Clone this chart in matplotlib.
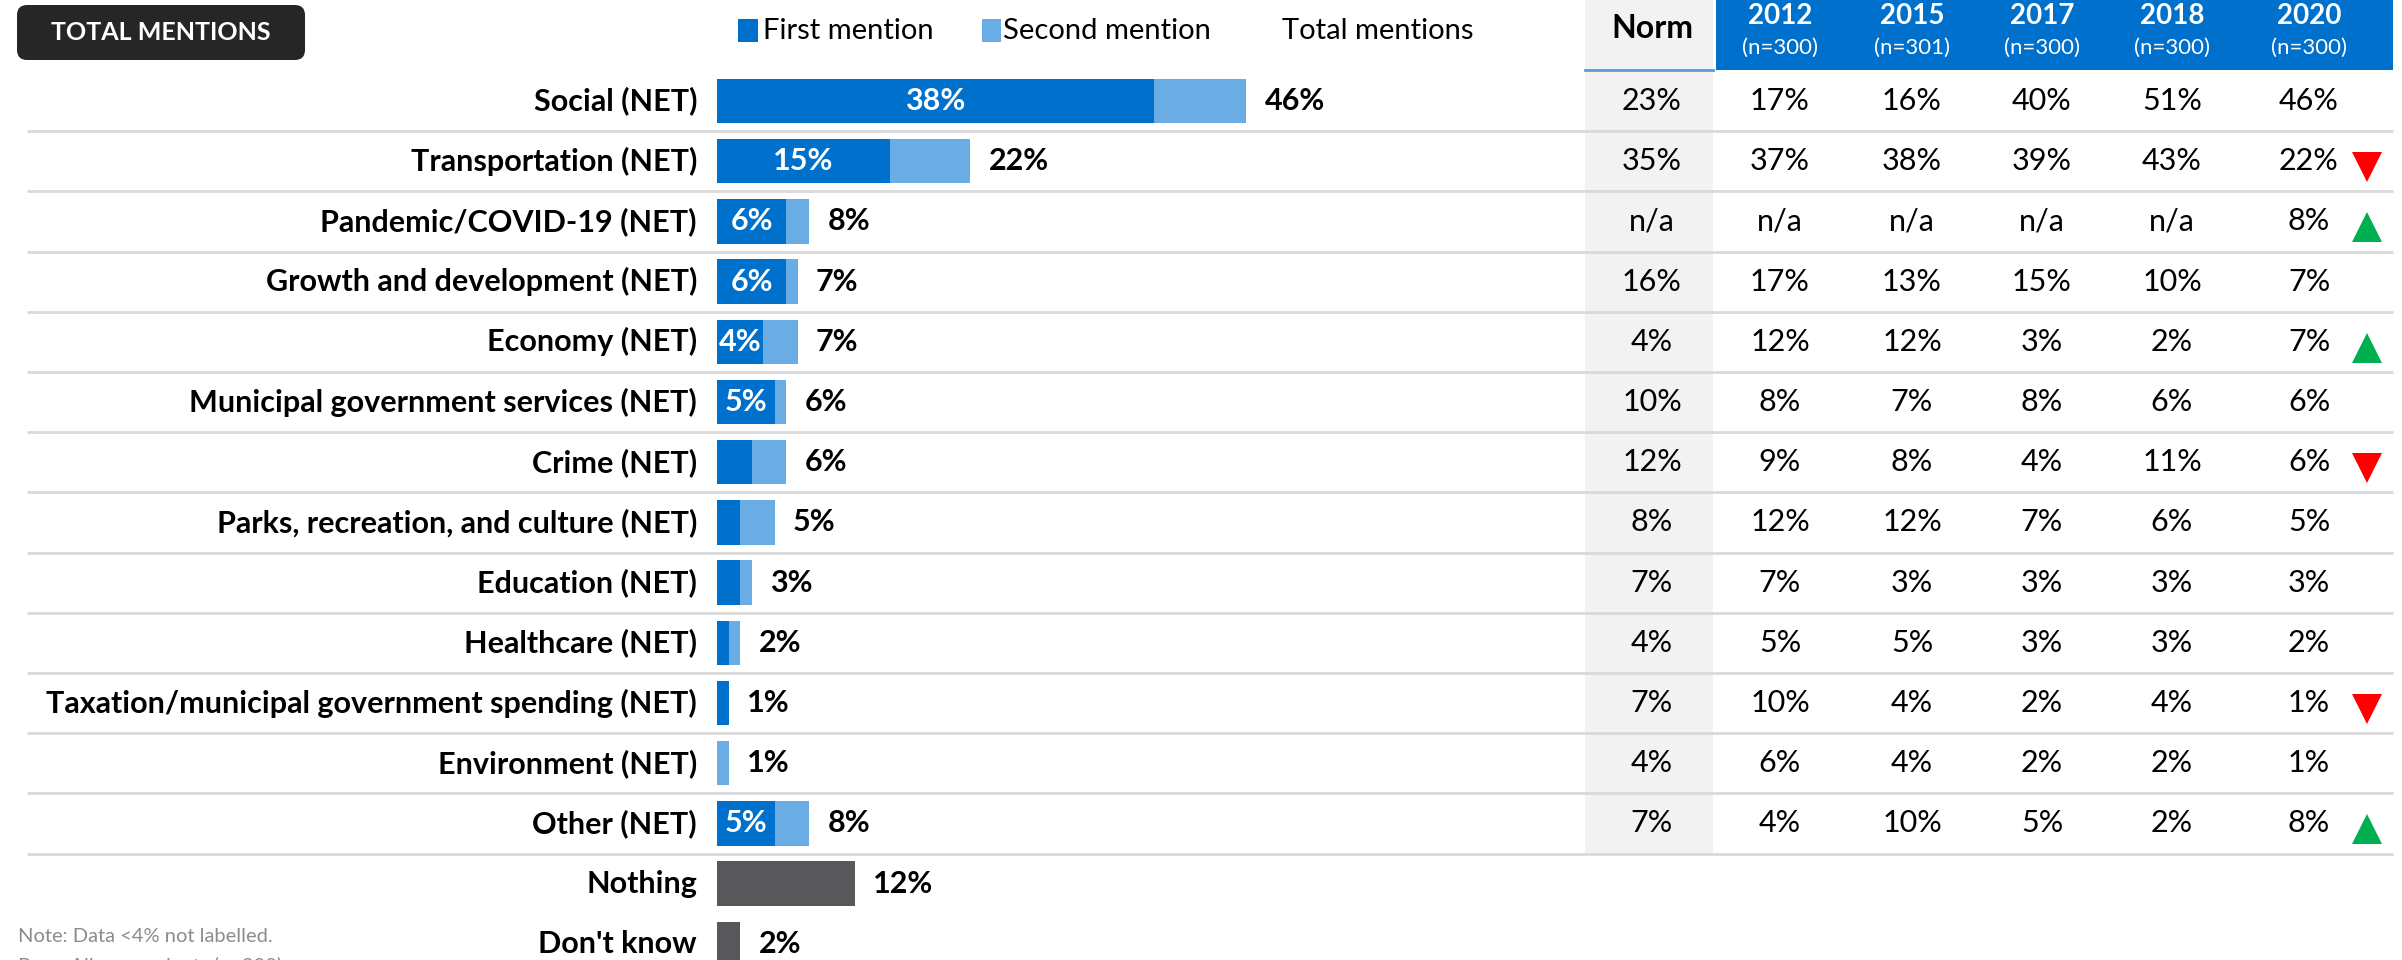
import matplotlib.pyplot as plt
from matplotlib.patches import FancyBboxPatch, Rectangle
from matplotlib.transforms import blended_transform_factory

plt.rcParams['font.family'] = ['Lato', 'DejaVu Sans']

categories = ["Social (NET)", "Transportation (NET)", "Pandemic/COVID-19 (NET)",
              "Growth and development (NET)", "Economy (NET)",
              "Municipal government services (NET)", "Crime (NET)",
              "Parks, recreation, and culture (NET)", "Education (NET)",
              "Healthcare (NET)", "Taxation/municipal government spending (NET)",
              "Environment (NET)", "Other (NET)"]
first_mention = [38, 15, 6, 6, 4, 5, 3, 2, 2, 1, 1, 0, 5]
second_mention = [8, 7, 2, 1, 3, 1, 3, 3, 1, 1, 0, 1, 3]
total_mentions = [46, 22, 8, 7, 7, 6, 6, 5, 3, 2, 1, 1, 8]

other_categories = ["Nothing", "Don't know"]
other_values = [12, 2]

norm = ["23%", "35%", "n/a", "16%", "4%", "10%", "12%", "8%", "7%", "4%", "7%", "4%", "7%"]
years = ["2012", "2015", "2017", "2018", "2020"]
sample_sizes = ["(n=300)", "(n=301)", "(n=300)", "(n=300)", "(n=300)"]
trend_2012 = ["17%", "37%", "n/a", "17%", "12%", "8%", "9%", "12%", "7%", "5%", "10%", "6%", "4%"]
trend_2015 = ["16%", "38%", "n/a", "13%", "12%", "7%", "8%", "12%", "3%", "5%", "4%", "4%", "10%"]
trend_2017 = ["40%", "39%", "n/a", "15%", "3%", "8%", "4%", "7%", "3%", "3%", "2%", "2%", "5%"]
trend_2018 = ["51%", "43%", "n/a", "10%", "2%", "6%", "11%", "6%", "3%", "3%", "4%", "2%", "2%"]
trend_2020 = ["46%", "22%", "8%", "7%", "7%", "6%", "6%", "5%", "3%", "2%", "1%", "1%", "8%"]
change_2020 = ["", "down", "up", "", "up", "", "down", "", "", "", "down", "", "up"]

BLUE = '#0070CD'
LIGHT = '#6AADE4'
GREY = '#58585B'

W, H = 2402, 960
fig = plt.figure(figsize=(W / 100, H / 100), dpi=100)
ax = fig.add_axes([0, 0, 1, 1])
ax.axis('off')

# pixel layout -> data units (x: percent, y: row index)
x0_px, px_per_pct = 717, 11.5
row0_px, row_px = 101, 60.2
ax.set_xlim(-x0_px / px_per_pct, (W - x0_px) / px_per_pct)
ax.set_ylim((H - row0_px) / row_px, -row0_px / row_px)

def fx(px):
    return px / W

tr = blended_transform_factory(fig.transFigure, ax.transData)

n = len(categories)
rows = list(range(n))
bh = 0.74
fs = 22

# gray Norm column + row separators
ax.add_patch(Rectangle((fx(1585), -row0_px / row_px), fx(1713) - fx(1585),
                       n - 0.5 + row0_px / row_px, transform=tr,
                       facecolor='#F2F2F2', edgecolor='none', zorder=0))
for i in rows:
    ax.plot([fx(27), fx(2393)], [i + 0.5, i + 0.5], transform=tr,
            color='#D9D9D9', lw=2, zorder=1, solid_capstyle='butt')

# bars
ax.barh(rows, first_mention, height=bh, color=BLUE, zorder=2)
ax.barh(rows, second_mention, left=first_mention, height=bh, color=LIGHT, zorder=2)
other_rows = [n + k for k in range(len(other_categories))]
ax.barh(other_rows, other_values, height=bh, color=GREY, zorder=2)

for i, cat in enumerate(categories + other_categories):
    ax.text(-20 / px_per_pct, i, cat, ha='right', va='center', fontsize=fs,
            fontweight='bold', color='black')

for i in rows:
    if first_mention[i] >= 4:
        ax.text(first_mention[i] / 2, i, f"{first_mention[i]}%", ha='center', va='center',
                fontsize=fs, fontweight='bold', color='white', zorder=3)
    ax.text(total_mentions[i] + 1.6, i, f"{total_mentions[i]}%", ha='left', va='center',
            fontsize=fs, fontweight='bold', color='black')
for r, v in zip(other_rows, other_values):
    ax.text(v + 1.6, r, f"{v}%", ha='left', va='center', fontsize=fs,
            fontweight='bold', color='black')

# table
col_x = [1652, 1780, 1912, 2042, 2172, 2309]
columns = [norm, trend_2012, trend_2015, trend_2017, trend_2018, trend_2020]
for cx, col in zip(col_x, columns):
    for i, val in enumerate(col):
        ax.text(fx(cx), i, val, transform=tr, ha='center', va='center',
                fontsize=fs, color='black')
for i, ch in enumerate(change_2020):
    if ch == 'down':
        ax.plot(fx(2367), i + 0.1, transform=tr, marker='v', ms=22, color='#FF0000',
                markeredgewidth=0)
    elif ch == 'up':
        ax.plot(fx(2367), i + 0.1, transform=tr, marker='^', ms=22, color='#00B050',
                markeredgewidth=0)

# header
ax.add_patch(Rectangle((fx(1716), 1 - 70 / H), fx(2393) - fx(1716), 70 / H,
                       transform=fig.transFigure, facecolor=BLUE, edgecolor='none', zorder=1))
ax.add_patch(Rectangle((fx(1585), 1 - 70 / H), fx(1713) - fx(1585), 70 / H,
                       transform=fig.transFigure, facecolor='#F2F2F2', edgecolor='none', zorder=1))
ax.plot([fx(1585), fx(1713)], [1 - 70 / H, 1 - 70 / H], transform=fig.transFigure,
        color='#5B9BD5', lw=2, zorder=2)
fig.text(fx(1652), 1 - 29 / H, "Norm", ha='center', va='center', fontsize=23,
         fontweight='bold', color='black')
for cx, yr, ns in zip(col_x[1:], years, sample_sizes):
    fig.text(fx(cx), 1 - 16 / H, yr, ha='center', va='center', fontsize=20,
             fontweight='bold', color='white')
    fig.text(fx(cx), 1 - 48 / H, ns, ha='center', va='center', fontsize=16, color='white')

# title box
fig.patches.append(FancyBboxPatch((0.17, H / 100 - 0.60), 2.88, 0.55,
                                  boxstyle='round,pad=0,rounding_size=0.1',
                                  transform=fig.dpi_scale_trans, facecolor='#262626',
                                  edgecolor='none'))
fig.text(fx(161), 1 - 32 / H, "TOTAL MENTIONS", ha='center', va='center', fontsize=18,
         fontweight='bold', color='white')

# legend
fig.patches.append(Rectangle((fx(738), 1 - 42 / H), fx(20), 23 / H,
                             transform=fig.transFigure, facecolor=BLUE))
fig.text(fx(763), 1 - 31 / H, "First mention", ha='left', va='center', fontsize=21)
fig.patches.append(Rectangle((fx(982), 1 - 42 / H), fx(19), 23 / H,
                             transform=fig.transFigure, facecolor=LIGHT))
fig.text(fx(1003), 1 - 31 / H, "Second mention", ha='left', va='center', fontsize=21)
fig.text(fx(1282), 1 - 31 / H, "Total mentions", ha='left', va='center', fontsize=21)

# notes
fig.text(fx(18), 1 - 937 / H, "Note: Data <4% not labelled.", ha='left', va='center',
         fontsize=14.5, color='#8C8C8C')
fig.text(fx(18), 1 - 966 / H, "Base: All respondents (n=300)", ha='left', va='center',
         fontsize=14.5, color='#8C8C8C')

fig.savefig('out.png', dpi=100)
